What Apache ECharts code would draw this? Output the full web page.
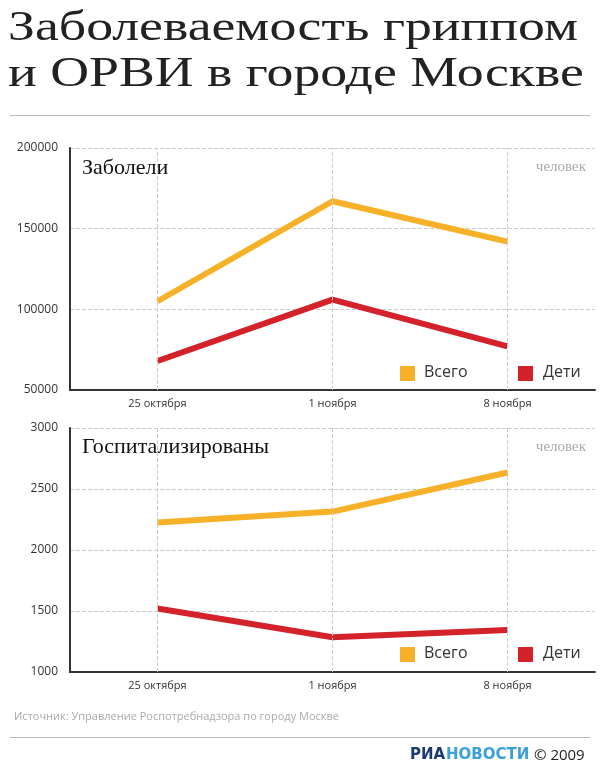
<!DOCTYPE html>
<html>
<head>
<meta charset="utf-8">
<script src="https://cdn.jsdelivr.net/npm/echarts@6/dist/echarts.min.js"></script>
<style>html,body{margin:0;padding:0;background:#fff}#main{width:600px;height:774px}</style>
</head>
<body>
<div id="main"></div>
<script>
var dates = ['25 октября', '1 ноября', '8 ноября'];
var illTotal = [105000, 167000, 142000];
var illKids = [68000, 106000, 77000];
var hospTotal = [2225, 2315, 2635];
var hospKids = [1520, 1285, 1345];

var ORANGE = '#f6b128', RED = '#d4222a';
var chart = echarts.init(document.getElementById('main'));

function xAx(i) {
    return {
        type: 'category', gridIndex: i, data: dates, boundaryGap: true,
        axisLine: {lineStyle: {color: '#333', width: 2}},
        axisTick: {show: false},
        axisLabel: {color: '#333', fontSize: 11, fontFamily: 'Open Sans', margin: 8, interval: 0},
        splitLine: {show: false}
    };
}
function yAx(i, min, max, step) {
    return {
        type: 'value', gridIndex: i, min: min, max: max, interval: step,
        axisLine: {show: true, lineStyle: {color: '#333', width: 2}},
        axisTick: {show: false},
        axisLabel: {color: '#333', fontSize: 12, fontFamily: 'Open Sans', margin: 12,
            formatter: function (v) { return String(v); }},
        splitLine: {lineStyle: {color: '#ccc', type: 'dashed'}}
    };
}
function line(name, data, color, i) {
    return {
        name: name, type: 'line', xAxisIndex: i, yAxisIndex: i, data: data,
        symbol: 'none', lineStyle: {color: color, width: 6}, itemStyle: {color: color}
    };
}
// vertical dashed guides at category centres
function guide(i) {
    return {
        type: 'line', xAxisIndex: i, yAxisIndex: i, data: [], silent: true,
        markLine: {symbol: 'none', silent: true, label: {show: false},
            lineStyle: {color: '#ccc', type: 'dashed', width: 1},
            data: dates.map(function (d) { return {xAxis: d}; })}
    };
}
function legendBox(top) {
    return [
        {type: 'rect', left: 400, top: top, shape: {width: 15, height: 15}, style: {fill: ORANGE}},
        {type: 'text', left: 424, top: top - 2, style: {text: 'Всего', font: '16px "Open Sans"', fill: '#333'}},
        {type: 'rect', left: 518, top: top, shape: {width: 15, height: 15}, style: {fill: RED}},
        {type: 'text', left: 543, top: top - 2, style: {text: 'Дети', font: '16px "Open Sans"', fill: '#333'}}
    ];
}

var option = {
    animation: false,
    grid: [
        {left: 70, right: 5, top: 148, height: 242},
        {left: 70, right: 5, top: 428, height: 244}
    ],
    xAxis: [xAx(0), xAx(1)],
    yAxis: [yAx(0, 50000, 200000, 50000), yAx(1, 1000, 3000, 500)],
    series: [
        guide(0), guide(1),
        line('Всего', illTotal, ORANGE, 0),
        line('Дети', illKids, RED, 0),
        line('Всего', hospTotal, ORANGE, 1),
        line('Дети', hospKids, RED, 1)
    ],
    graphic: [
        {type: 'text', x: 8, y: 6, scaleX: 1.25, style: {text: 'Заболеваемость гриппом\nи ОРВИ в городе Москве', font: '43px "Liberation Serif"', lineHeight: 46, fill: '#222'}},
        {type: 'rect', left: 10, top: 115, shape: {width: 580, height: 1}, style: {fill: '#bbb'}},
        {type: 'text', left: 82, top: 157, style: {text: 'Заболели', font: '22px "Liberation Serif"', fill: '#111'}},
        {type: 'text', right: 14, top: 160, style: {text: 'человек', font: '15px "Liberation Serif"', fill: '#aaa'}},
        {type: 'text', left: 82, top: 436, style: {text: 'Госпитализированы', font: '22px "Liberation Serif"', fill: '#111'}},
        {type: 'text', right: 14, top: 440, style: {text: 'человек', font: '15px "Liberation Serif"', fill: '#aaa'}},
        {type: 'text', left: 14, top: 711, style: {text: 'Источник: Управление Роспотребнадзора по городу Москве', font: '11px "Open Sans"', fill: '#aaa'}},
        {type: 'rect', left: 10, top: 737, shape: {width: 580, height: 1}, style: {fill: '#bbb'}},
        {type: 'text', left: 410, top: 748, style: {text: 'РИА', font: 'bold 15px "DejaVu Sans"', fill: '#1b3a73'}},
        {type: 'text', left: 446, top: 748, style: {text: 'НОВОСТИ', font: 'bold 15px "DejaVu Sans"', fill: '#3aa0dc'}},
        {type: 'text', left: 534, top: 748, style: {text: '© 2009', font: '15px "Open Sans"', fill: '#222'}}
    ].concat(legendBox(366), legendBox(647))
};
chart.setOption(option);
</script>
</body>
</html>
